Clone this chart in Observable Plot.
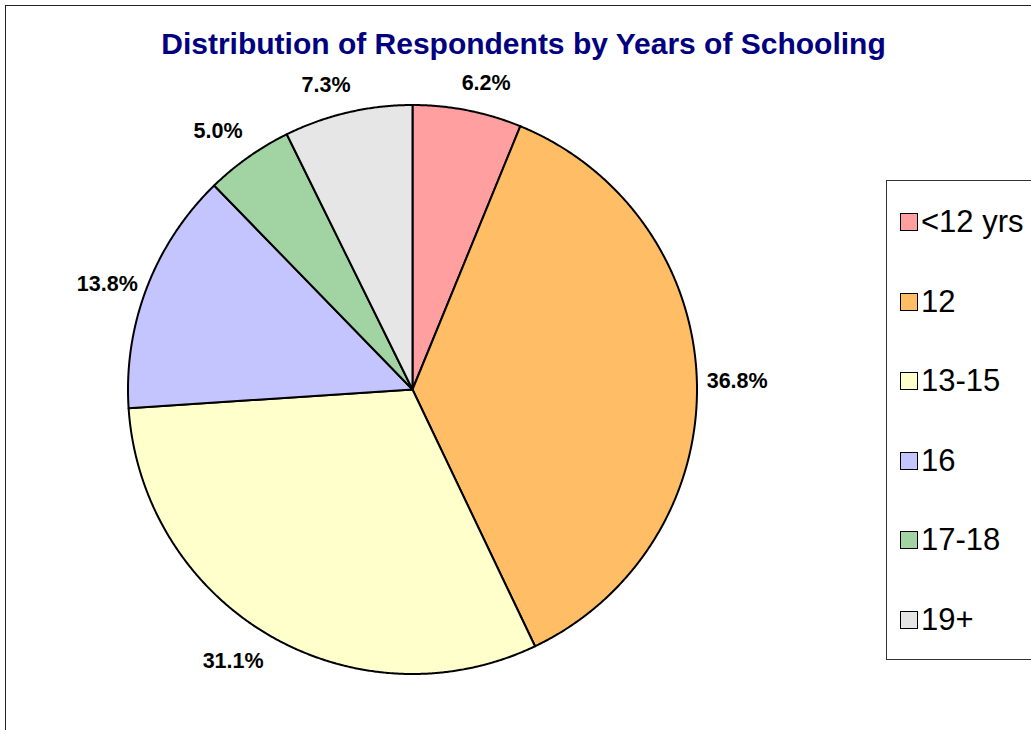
<!DOCTYPE html>
<html><head><meta charset="utf-8">
<script src="https://cdn.jsdelivr.net/npm/d3@7"></script>
<script src="https://cdn.jsdelivr.net/npm/@observablehq/plot@0.6"></script>
<style>
html,body{margin:0;padding:0;background:#fff;overflow:hidden;}
#wrap{position:relative;width:1031px;height:730px;font-family:Arial,"Liberation Sans",sans-serif;overflow:hidden;}
#frame{position:absolute;left:5px;top:5px;width:1100px;height:800px;border:1px solid #222;}
#title{position:absolute;left:0;width:1047px;top:29px;line-height:1;text-align:center;font-weight:bold;font-size:30px;color:#000080;white-space:nowrap;}
#chart{position:absolute;left:0;top:0;}
#legend{position:absolute;left:886px;top:180px;width:200px;height:478px;border:1px solid #333;background:#fff;}
.item{position:absolute;left:13px;height:34px;display:flex;align-items:center;white-space:nowrap;}
.sw{width:18px;height:18px;box-sizing:border-box;border:1.5px solid #000;}
.lab{margin-left:3px;font-size:31px;color:#000;}
</style></head>
<body><div id="wrap"><div id="frame"></div><div id="title">Distribution of Respondents by Years of Schooling</div><div id="chart"></div><div id="legend"></div></div>
<script>
const categories = ["<12 yrs", "12", "13-15", "16", "17-18", "19+"];
const shares = [6.2, 36.8, 31.1, 13.8, 5.0, 7.3];
const colors = ["#FF9F9F", "#FFBE66", "#FFFFCC", "#C4C4FF", "#A2D3A2", "#E6E6E6"];

const cx = 412, cy = 389, R = 284.5;
const rows = categories.map((c, i) => ({category: c, value: shares[i], label: shares[i].toFixed(1) + "%"}));
const arcs = d3.pie().sort(null).value(d => d.value)(rows);

// slice outlines in unit-circle coordinates (angle clockwise from 12 o'clock)
const poly = [];
arcs.forEach(a => {
  poly.push({category: a.data.category, x: 0, y: 0});
  const n = Math.max(2, Math.ceil((a.endAngle - a.startAngle) / 0.005));
  for (let k = 0; k <= n; k++) {
    const t = a.startAngle + (a.endAngle - a.startAngle) * k / n;
    poly.push({category: a.data.category, x: Math.sin(t), y: Math.cos(t)});
  }
});

// label placement outside the pie
const ctx = document.createElement("canvas").getContext("2d");
ctx.font = "bold 21px Arial, 'Liberation Sans', sans-serif";
const clamp = (v, lo, hi) => Math.max(lo, Math.min(hi, v));
const D = 294;
const labs = arcs.map(a => {
  const m = (a.startAngle + a.endAngle) / 2;
  const ux = Math.sin(m), uy = -Math.cos(m); // screen direction
  const hw = ctx.measureText(a.data.label).width / 2 + 1, hh = 18;
  const fx = clamp(ux * 3.5, -1, 1);
  const fy = Math.sign(uy) * clamp((Math.abs(uy) - 0.35) / 0.45, 0, 1);
  const px = ux * D + hw * fx, py = uy * D + hh * fy;
  return {label: a.data.label, x: px / R, y: -py / R};
});

const plot = Plot.plot({
  width: 1031, height: 730,
  margin: 0,
  style: {background: "transparent", overflow: "visible"},
  x: {domain: [-1, 1], range: [cx - R, cx + R], axis: null},
  y: {domain: [-1, 1], range: [cy + R, cy - R], axis: null},
  color: {domain: categories, range: colors},
  marks: [
    Plot.line(poly, {x: "x", y: "y", z: "category", fill: "category", stroke: "#000", strokeWidth: 2, strokeLinejoin: "round", curve: "linear-closed"}),
    Plot.text(labs, {x: "x", y: "y", text: "label", fontSize: 21.5, fontWeight: "bold", fill: "#000", fontFamily: "Arial, 'Liberation Sans', sans-serif"})
  ]
});
document.getElementById("chart").appendChild(plot);

const lg = document.getElementById("legend");
categories.forEach((c, i) => {
  const it = document.createElement("div");
  it.className = "item";
  it.style.top = (41 + i * 79.6 - 17) + "px";
  const sw = document.createElement("div");
  sw.className = "sw";
  sw.style.background = colors[i];
  const tx = document.createElement("span");
  tx.className = "lab";
  tx.textContent = c;
  it.appendChild(sw); it.appendChild(tx);
  lg.appendChild(it);
});
</script></body></html>
